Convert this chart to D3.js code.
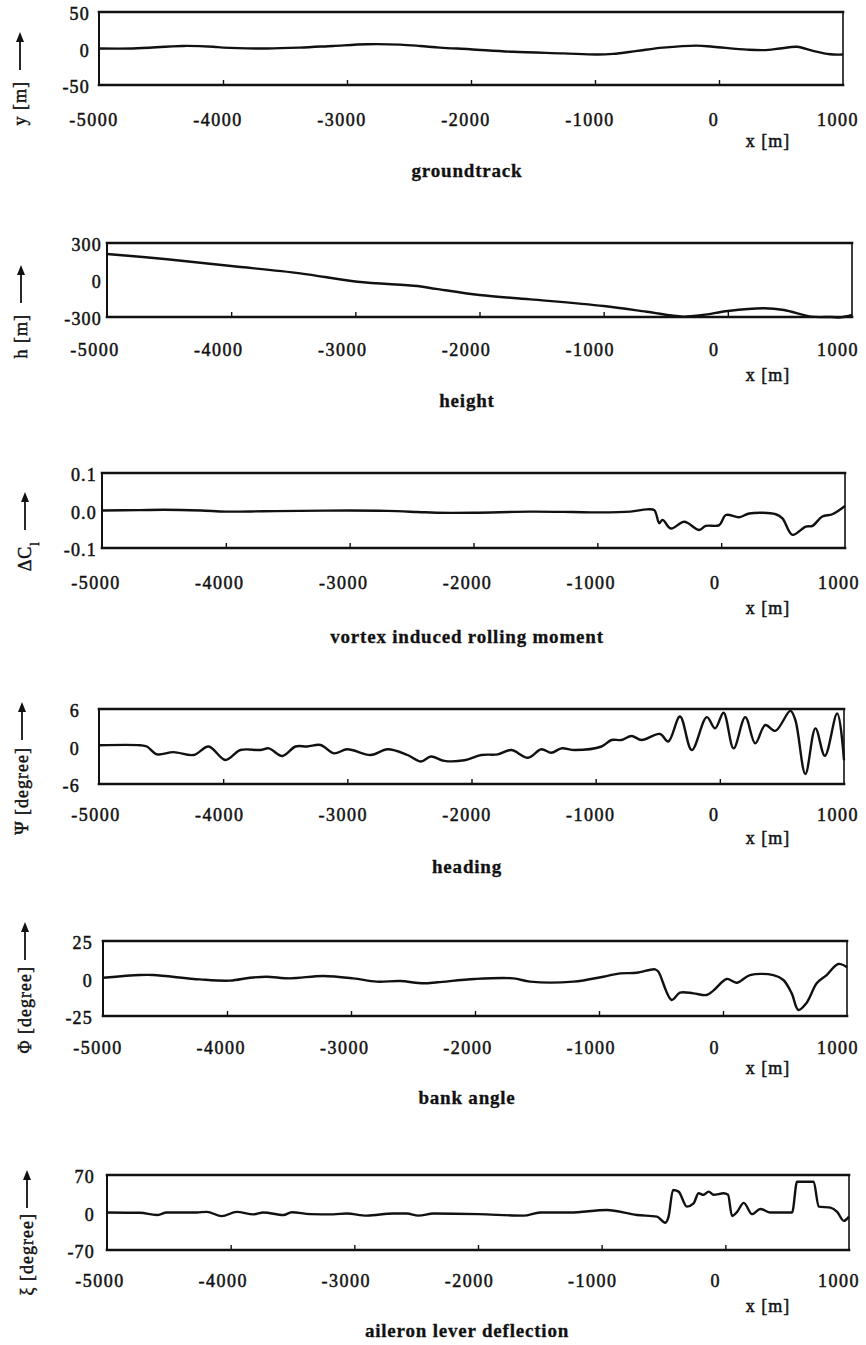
<!DOCTYPE html>
<html>
<head>
<meta charset="utf-8">
<script src="https://cdn.jsdelivr.net/npm/d3@7"></script>
<style>
  html, body { margin: 0; padding: 0; background: #fff; }
  svg { display: block; }
  text { font-family: "Liberation Serif", "Times New Roman", serif; fill: #111; }
</style>
</head>
<body>
<svg id="chart" width="866" height="1345"></svg>
<script>
// Shared distance axis (x [m])
const xTicks = [-5000, -4000, -3000, -2000, -1000, 0, 1000];

// groundtrack y [m]
const groundtrackX = [-5000, -4726, -4323, -4080, -4000, -3645, -3379, -3113, -2839, -2573, -2411, -2250, -2008, -1661, -1258, -984, -855, -661, -452, -179, -48, 226, 360, 492, 629, 758, 895, 1000];
const groundtrackY = [0, 0, 3.5, 2.4, 1.2, 0, 1.2, 3.5, 5.8, 5.3, 3.5, 1.2, -1, -4.5, -6.7, -8.3, -7.4, -3.3, 1.2, 4, 2.4, -1.5, -2.2, 0, 2.4, -3.3, -7.9, -8.3];
const groundtrackTicks = [-50, 0, 50];

// height h [m]
const heightX = [-5000, -4516, -4000, -3444, -2984, -2500, -2350, -2000, -1589, -1000, -653, -363, -202, 0, 290, 452, 669, 831, 911, 1000];
const heightY = [211, 168, 113, 54, -14, -49, -72, -122, -157, -211, -257, -297, -284, -251, -229, -243, -297, -300, -303, -284];
const heightTicks = [-300, 0, 300];

// vortex induced rolling moment ΔC_l
const rollX = [-5000, -4700, -4500, -4200, -4000, -3700, -3400, -3000, -2700, -2450, -2300, -2000, -1540, -1200, -1000, -734, -600, -540, -500, -473, -406, -298, -177, -124, -16, 38, 145, 226, 441, 495, 575, 683, 737, 817, 898, 1000];
const rollY = [0, 0.001, 0.002, 0, -0.003, -0.002, -0.001, 0, -0.001, -0.004, -0.006, -0.006, -0.003, -0.004, -0.005, -0.003, 0.003, 0.001, -0.034, -0.025, -0.048, -0.03, -0.052, -0.041, -0.039, -0.012, -0.018, -0.008, -0.01, -0.021, -0.065, -0.043, -0.041, -0.016, -0.01, 0.012];
const rollTicks = [-0.1, 0, 0.1];

// heading Ψ [degree]
const headingX = [-5000, -4669, -4615, -4534, -4400, -4238, -4117, -3982, -3861, -3700, -3632, -3524, -3417, -3323, -3215, -3108, -3000, -2811, -2676, -2515, -2407, -2326, -2219, -2057, -1922, -1787, -1680, -1545, -1438, -1357, -1276, -1168, -953, -872, -792, -711, -630, -482, -415, -321, -226, -105, -38, 30, 111, 205, 285, 366, 447, 568, 608, 689, 770, 846, 945, 1000];
const headingY = [0.2, 0.2, 0, -1.25, -0.9, -1.36, 0, -2.16, -0.56, -0.56, -0.3, -1.52, 0, 0, 0.24, -1.1, -0.45, -1.36, -0.45, -1.36, -2.4, -1.6, -2.3, -2.2, -1.36, -1.25, -0.56, -1.8, -0.45, -1.0, -0.3, -0.56, 0, 1.04, 1.04, 1.68, 1.04, 2.0, 0.8, 4.8, -0.56, 4.7, 2.9, 5.4, -0.3, 4.7, 0.5, 3.44, 2.5, 5.7, 4.24, -4.4, 2.9, -1.5, 5.3, -2.2];
const headingTicks = [-6, 0, 6];

// bank angle Φ [degree]
const bankX = [-5000, -4702, -4594, -4218, -3976, -3815, -3681, -3492, -3224, -2982, -2793, -2605, -2417, -2300, -2000, -1691, -1556, -1207, -965, -831, -696, -548, -522, -414, -347, -239, -132, -78, 30, 110, 218, 406, 487, 554, 608, 675, 756, 836, 930, 1000];
const bankY = [0.5, 2.3, 2.3, -0.6, -1.4, 0.5, 1.2, 0.1, 1.7, 0.1, -2.1, -1.7, -3.2, -2.5, -0.3, 0.1, -2.1, -2.1, 1.2, 3.4, 3.8, 6.1, 4.6, -14.3, -9.4, -9.9, -11, -8.1, -0.3, -2.8, 2.3, 2.3, -1, -9.9, -21, -16.1, -3.2, 2.3, 9.7, 7.5];
const bankTicks = [-25, 0, 25];

// aileron lever deflection ξ [degree]
const aileronX = [-5000, -4733, -4598, -4517, -4275, -4194, -4072, -3951, -3816, -3735, -3573, -3506, -3358, -3170, -3062, -2900, -2684, -2576, -2482, -2360, -1996, -1632, -1497, -1254, -958, -715, -553, -486, -459, -423, -378, -311, -257, -216, -176, -135, -95, -14, 22, 54, 95, 149, 216, 283, 364, 540, 580, 714, 755, 850, 904, 958, 1000];
const aileronY = [0, -0.6, -4.7, 0, 0, 1.2, -6.8, 1.2, -3.5, 0, -4.7, 0.6, -3, -3.5, -1.8, -5.9, -1.8, -1.8, -5.9, -1.8, -3, -5.9, 0, 0, 4.7, -4.7, -7.7, -19, -7.7, 42, 39, 10.9, 17, 35.8, 33, 39, 33, 35.8, 33, -6.5, 1.2, 18, -3, 6.5, 0, 0, 57.5, 57.5, 11, 9, 1.2, -15.6, -7.7];
const aileronTicks = [-70, 0, 70];

const titles = ["groundtrack", "height", "vortex induced rolling moment", "heading", "bank angle", "aileron lever deflection"];

// Panel layout: frame box, label placement, curve interpolation
const panels = [
  { xs: groundtrackX, ys: groundtrackY, ticks: groundtrackTicks, dec: 0,
    label: [["y [m]"]], box: [99, 843, 12, 85], tickRight: 90, labelRange: [94, 838], xLabelCY: 120, unitCY: 141, titleCY: 170,
    axisX: 20, arrowBottom: 70, gap: 11, curve: d3.curveCatmullRom },
  { xs: heightX, ys: heightY, ticks: heightTicks, dec: 0,
    label: [["h [m]"]], box: [107, 852, 243, 317], tickRight: 102, labelRange: [95, 838], xLabelCY: 350, unitCY: 375, titleCY: 400,
    axisX: 21, arrowBottom: 303, gap: 11, curve: d3.curveCatmullRom },
  { xs: rollX, ys: rollY, ticks: rollTicks, dec: 1,
    label: [["ΔC"], ["l", true]], box: [102, 845, 473, 548], tickRight: 97, labelRange: [96, 839], xLabelCY: 583, unitCY: 608, titleCY: 636,
    axisX: 25, arrowBottom: 530, gap: 11, curve: d3.curveCatmullRom },
  { xs: headingX, ys: headingY, ticks: headingTicks, dec: 0,
    label: [["Ψ [degree]"]], box: [99, 844, 709, 784], tickRight: 80, labelRange: [96, 838], xLabelCY: 815, unitCY: 838, titleCY: 866,
    axisX: 22, arrowBottom: 740, gap: 7, curve: d3.curveCatmullRom },
  { xs: bankX, ys: bankY, ticks: bankTicks, dec: 0,
    label: [["Φ [degree]"]], box: [103, 847, 941, 1016], tickRight: 93, labelRange: [98, 838], xLabelCY: 1048, unitCY: 1068, titleCY: 1097,
    axisX: 25, arrowBottom: 960, gap: 6, curve: d3.curveCatmullRom },
  { xs: aileronX, ys: aileronY, ticks: aileronTicks, dec: 0,
    label: [["ξ [degree]"]], box: [107, 849, 1175, 1250], tickRight: 95, labelRange: [100, 839], xLabelCY: 1281, unitCY: 1306, titleCY: 1330,
    axisX: 27, arrowBottom: 1208, gap: 5, curve: d3.curveMonotoneX }
];

const svg = d3.select("#chart");
const fontSize = 18;
const titleCX = 467;
const unitCX = 768;
// plain hyphen-minus, as typeset on the original axes
const fmtNum = dec => v => (dec ? v.toFixed(dec) : String(Math.round(v)));

panels.forEach((p, i) => {
  const [left, right, top, bottom] = p.box;
  const xDomain = [xTicks[0], xTicks[xTicks.length - 1]];
  const x = d3.scaleLinear().domain(xDomain).range([left, right]);
  const xLab = d3.scaleLinear().domain(xDomain).range(p.labelRange);
  const y = d3.scaleLinear().domain([p.ticks[0], p.ticks[p.ticks.length - 1]]).range([bottom, top]);
  const g = svg.append("g");

  // bottom axis: inward tick marks only
  const xAxis = d3.axisBottom(x)
    .tickValues(xTicks.slice(1, -1))
    .tickSizeInner(-5)
    .tickSizeOuter(0)
    .tickFormat("");
  const gx = g.append("g").attr("transform", `translate(0,${bottom})`).call(xAxis);
  gx.select(".domain").remove();
  gx.selectAll(".tick line").attr("stroke", "#111").attr("stroke-width", 1.4);

  // distance labels
  g.selectAll("text.xlab").data(xTicks).enter().append("text")
    .attr("class", "xlab")
    .attr("x", d => xLab(d)).attr("y", p.xLabelCY).attr("dy", "0.35em")
    .attr("text-anchor", "middle")
    .style("font-size", fontSize + "px").style("letter-spacing", "1.5px")
    .attr("stroke", "#111").attr("stroke-width", 0.5)
    .text(fmtNum(0));

  // left axis: value labels only
  const yAxis = d3.axisLeft(y).tickValues(p.ticks).tickSize(0)
    .tickPadding(left - p.tickRight).tickFormat(fmtNum(p.dec));
  const gy = g.append("g").attr("transform", `translate(${left},2)`).call(yAxis);
  gy.select(".domain").remove();
  gy.attr("font-family", null).attr("font-size", null);
  gy.selectAll(".tick text")
    .style("font-size", fontSize + "px").style("letter-spacing", "1.2px")
    .attr("stroke", "#111").attr("stroke-width", 0.5);

  // data curve
  const line = d3.line()
    .x(d => x(d[0]))
    .y(d => y(d[1]))
    .curve(p.curve);
  g.append("path")
    .datum(d3.zip(p.xs, p.ys))
    .attr("d", line)
    .attr("fill", "none")
    .attr("stroke", "#111")
    .attr("stroke-width", 2.4)
    .attr("stroke-linejoin", "round");

  // frame
  const frame = [
    [left, top, right, top, 2.6],
    [left, bottom, right, bottom, 2.6],
    [left, top, left, bottom, 2.0],
    [right, top, right, bottom, 1.6]
  ];
  g.selectAll("line.frame").data(frame).enter().append("line")
    .attr("class", "frame")
    .attr("x1", d => d[0]).attr("y1", d => d[1])
    .attr("x2", d => d[2]).attr("y2", d => d[3])
    .attr("stroke", "#111").attr("stroke-width", d => d[4])
    .attr("stroke-linecap", "square");

  // unit label of the distance axis
  g.append("text")
    .attr("x", unitCX).attr("y", p.unitCY).attr("dy", "0.35em")
    .attr("text-anchor", "middle")
    .style("font-size", fontSize + "px").style("letter-spacing", "1px")
    .attr("stroke", "#111").attr("stroke-width", 0.5)
    .text("x [m]");

  // panel title
  g.append("text")
    .attr("x", titleCX).attr("y", p.titleCY).attr("dy", "0.35em")
    .attr("text-anchor", "middle")
    .style("font-size", "19px").style("font-weight", "bold").style("letter-spacing", "0.8px")
    .attr("stroke", "#111").attr("stroke-width", 0.3)
    .text(titles[i]);

  // rotated quantity label with upward arrow
  const lg = g.append("g").attr("transform", `translate(${p.axisX},${p.arrowBottom}) rotate(-90)`);
  const arrowLen = 38;
  lg.append("line")
    .attr("x1", 0).attr("y1", 0).attr("x2", arrowLen - 6).attr("y2", 0)
    .attr("stroke", "#111").attr("stroke-width", 1.8);
  lg.append("path")
    .attr("d", `M${arrowLen},0 L${arrowLen - 10},-4 L${arrowLen - 10},4 Z`)
    .attr("fill", "#111");
  const lt = lg.append("text")
    .attr("x", -p.gap).attr("y", 0).attr("dy", "0.35em")
    .attr("text-anchor", "end")
    .style("font-size", fontSize + "px").style("letter-spacing", "1px")
    .attr("stroke", "#111").attr("stroke-width", 0.45);
  p.label.forEach(([s, sub]) => {
    const ts = lt.append("tspan").text(s);
    if (sub) ts.attr("baseline-shift", "sub").style("font-size", "13px");
  });
});
</script>
</body>
</html>
